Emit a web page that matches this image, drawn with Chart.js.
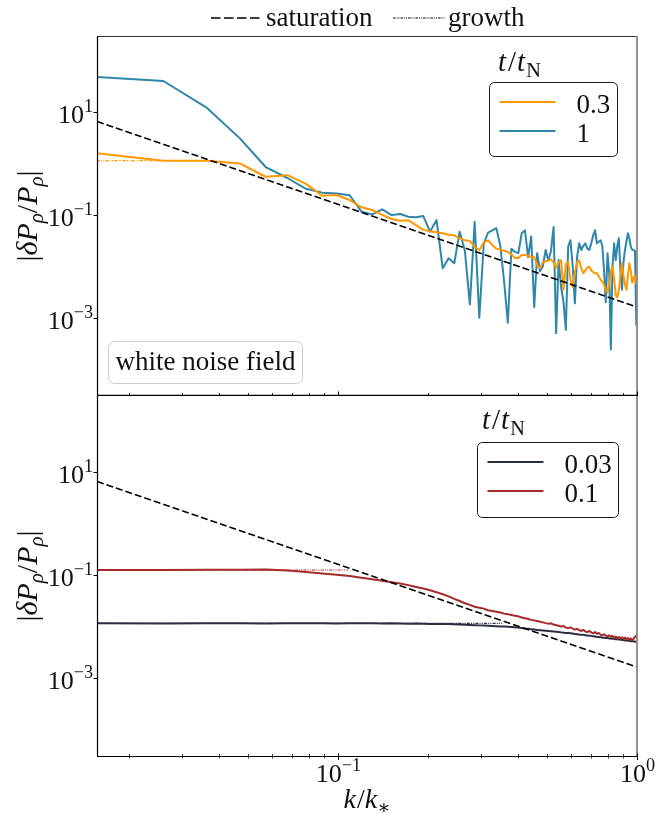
<!DOCTYPE html>
<html>
<head>
<meta charset="utf-8">
<script src="https://cdn.jsdelivr.net/npm/chart.js@4.4.1/dist/chart.umd.min.js"></script>
<style>
  body { margin: 0; background: #fff; }
  #wrap { position: relative; width: 655px; height: 814px; }
  canvas { position: absolute; left: 0; }
</style>
</head>
<body>
<div id="wrap">
  <canvas id="topChart" width="655" height="396" style="top:0"></canvas>
  <canvas id="bottomChart" width="655" height="418" style="top:396px"></canvas>
</div>
<script>
// wavenumber grid, k/k* = (n + 0.5)/96
const kGrid = Array.from({ length: 95 }, (_, i) => (i + 1.5) / 96);

// top panel: white noise field
const whiteNoise03 = [1.57, 1.13, 1.13, 1.0, 0.55, 0.59, 0.40, 0.235, 0.243, 0.194,
  0.14, 0.124, 0.1, 0.083, 0.077, 0.078, 0.063, 0.051, 0.048, 0.046,
  0.044, 0.041, 0.040, 0.035, 0.032, 0.031, 0.0237, 0.0207, 0.029, 0.032,
  0.026, 0.022, 0.021, 0.020, 0.019, 0.017, 0.0145, 0.0145, 0.0165, 0.0165,
  0.016, 0.015, 0.015, 0.0105, 0.0092, 0.012, 0.0125, 0.013, 0.0135, 0.012,
  0.0092, 0.012, 0.013, 0.0035, 0.011, 0.012, 0.0055, 0.004, 0.0077, 0.012,
  0.013, 0.0092, 0.0073, 0.0083, 0.0095, 0.0098, 0.0083, 0.0077, 0.0073, 0.0073,
  0.0064, 0.0055, 0.005, 0.0044, 0.0035, 0.0031, 0.0044, 0.0077, 0.01, 0.0055,
  0.0027, 0.0025, 0.0035, 0.0066, 0.0114, 0.0066, 0.0044, 0.0035, 0.0066, 0.0114,
  0.0083, 0.0048, 0.006, 0.0066, 0.0044];
const whiteNoise1 = [48, 40, 12, 3.1, 0.85, 0.52, 0.32, 0.27, 0.26, 0.24,
  0.115, 0.102, 0.128, 0.099, 0.104, 0.092, 0.09, 0.095, 0.047, 0.079,
  0.0091, 0.0143, 0.0114, 0.047, 0.02, 0.0018, 0.073, 0.001, 0.028, 0.045,
  0.05, 0.055, 0.025, 0.005, 0.0008, 0.022, 0.019, 0.018, 0.044, 0.05,
  0.015, 0.038, 0.0016, 0.018, 0.008, 0.01, 0.0207, 0.013, 0.02, 0.058,
  0.0005, 0.0132, 0.004, 0.002, 0.00058, 0.024, 0.032, 0.01, 0.0019, 0.015,
  0.028, 0.0207, 0.025, 0.028, 0.022, 0.0207, 0.028, 0.04, 0.05, 0.028,
  0.03, 0.032, 0.025, 0.008, 0.002, 0.0179, 0.0073, 0.00024, 0.01, 0.028,
  0.0132, 0.025, 0.035, 0.008, 0.0035, 0.012, 0.0207, 0.03, 0.0437, 0.035,
  0.024, 0.021, 0.0207, 0.02, 0.0007];

// bottom panel
const field003 = [0.0114, 0.0113, 0.0115, 0.0114, 0.0113, 0.0114, 0.0115, 0.0114, 0.0113, 0.0114,
  0.0115, 0.0114, 0.0113, 0.0114, 0.0113, 0.0112, 0.0113, 0.0112, 0.0111, 0.0111,
  0.011, 0.011, 0.0109, 0.0108, 0.0107, 0.0106, 0.0105, 0.0104, 0.0103, 0.0102,
  0.0101, 0.01, 0.0099, 0.0099, 0.0098, 0.0097, 0.0096, 0.0094, 0.0092, 0.009,
  0.0089, 0.0087, 0.0086, 0.0085, 0.0084, 0.0083, 0.0082, 0.0081, 0.008, 0.0079,
  0.0078, 0.0077, 0.0076, 0.0075, 0.0074, 0.0074, 0.0073, 0.0072, 0.0071, 0.007,
  0.0069, 0.0068, 0.0068, 0.0067, 0.0066, 0.0065, 0.0065, 0.0064, 0.0063, 0.0062,
  0.0062, 0.0061, 0.006, 0.006, 0.0059, 0.0059, 0.0058, 0.0058, 0.0057, 0.0057,
  0.0056, 0.0056, 0.0055, 0.0055, 0.0054, 0.0054, 0.0053, 0.0053, 0.0052, 0.0052,
  0.0051, 0.0051, 0.0051, 0.005, 0.005];
const field01 = [0.124, 0.124, 0.125, 0.126, 0.127, 0.121, 0.113, 0.106, 0.1, 0.095,
  0.088, 0.082, 0.077, 0.072, 0.068, 0.063, 0.058, 0.054, 0.05, 0.046,
  0.042, 0.038, 0.034, 0.031, 0.028, 0.026, 0.024, 0.023, 0.022, 0.0205,
  0.0198, 0.0192, 0.0185, 0.0176, 0.0172, 0.0166, 0.016, 0.0156, 0.0148, 0.0143,
  0.0138, 0.0133, 0.013, 0.0126, 0.0122, 0.0119, 0.0115, 0.0112, 0.0114, 0.0108,
  0.0105, 0.0102, 0.0099, 0.0101, 0.0094, 0.0092, 0.0095, 0.009, 0.0086, 0.0089,
  0.0084, 0.0081, 0.0085, 0.0079, 0.0077, 0.0081, 0.0076, 0.0073, 0.0077, 0.0071,
  0.0074, 0.0069, 0.0066, 0.007, 0.0066, 0.0063, 0.0067, 0.0062, 0.0065, 0.006,
  0.0063, 0.0059, 0.0062, 0.0058, 0.0061, 0.0057, 0.006, 0.0056, 0.0059, 0.0055,
  0.0058, 0.0054, 0.0057, 0.0062, 0.0066];

// saturation line (two ends) and growth lines
const satK = [1 / 64, 1];
const satVals = [6.55, 0.0016];
const growth03K = [1 / 64, 0.0254];
const growth03Vals = [1.13, 1.13];
const growth01K = [1 / 64, 0.108];
const growth01Vals = [0.124, 0.124];
const growth003K = [1 / 64, 0.354];
const growth003Vals = [0.0114, 0.0114];

// axes
const K_MIN = 1 / 64, K_MAX = 1;
const Y_MIN = 3e-5, Y_MAX = 300;
const xMajorTicks = [0.1, 1];
const xMinorTicks = [0.02, 0.03, 0.04, 0.05, 0.06, 0.07, 0.08, 0.09, 0.2, 0.3, 0.4, 0.5, 0.6, 0.7, 0.8, 0.9];
const yMajorTicks = [10, 0.1, 0.001];

const ORANGE = '#ff9800', BLUE = '#2e86ab', NAVY = '#2b2d42', RED = '#a52a2a';
const SERIF = '"Liberation Serif", "DejaVu Serif", serif';
const TXT = '#111';
const DASH = [7, 3];
const DASHDOTDOT = [3, 1.2, 1, 1.2, 1, 1.2];

const pts = (ks, vs) => vs.map((v, i) => ({ x: ks[i], y: v }));
const font = (size, italic) => (italic ? 'italic ' : '') + size + 'px ' + SERIF;

function seg(ctx, x1, y1, x2, y2, color, w, dash) {
  ctx.beginPath();
  ctx.strokeStyle = color;
  ctx.lineWidth = w;
  ctx.setLineDash(dash || []);
  ctx.moveTo(x1, y1);
  ctx.lineTo(x2, y2);
  ctx.stroke();
  ctx.setLineDash([]);
}

// small math strings: parts [{t, it, sub, sup}]
function drawParts(ctx, parts, x, y, size, align) {
  const items = parts.map(p => {
    const sz = (p.sub || p.sup) ? size * 0.7 : size;
    ctx.font = font(sz, p.it);
    return Object.assign({}, p, { sz, w: ctx.measureText(p.t).width + (p.pad || 0) });
  });
  const total = items.reduce((s, it) => s + it.w, 0);
  let cx = align === 'center' ? x - total / 2 : align === 'right' ? x - total : x;
  ctx.textAlign = 'left';
  ctx.textBaseline = 'alphabetic';
  ctx.fillStyle = TXT;
  items.forEach(it => {
    ctx.font = font(it.sz, it.it);
    const dy = it.sub ? size * 0.2 : it.sup ? -size * 0.42 : 0;
    ctx.fillText(it.t, cx, y + dy);
    cx += it.w;
  });
}

function pow10(e) {
  return [{ t: '10' }, { t: e < 0 ? '\u2212' + (-e) : String(e), sup: true }];
}

const yLabel = [{ t: '|' }, { t: '\u03b4', it: true }, { t: 'P', it: true }, { t: '\u03c1', it: true, sub: true },
  { t: '/' }, { t: 'P', it: true }, { t: '\u03c1', it: true, sub: true }, { t: '|' }];
const tLabel = [{ t: 't', it: true, pad: 2 }, { t: '/', pad: 1 }, { t: 't', it: true, pad: 1 }, { t: 'N', sub: true }];
const kLabel = [{ t: 'k', it: true, pad: 1 }, { t: '/' }, { t: 'k', it: true }, { t: '\u2217', sub: true }];

function roundBox(ctx, x, y, w, h, r, stroke, fill) {
  ctx.beginPath();
  ctx.roundRect(x, y, w, h, r);
  ctx.fillStyle = fill;
  ctx.fill();
  ctx.strokeStyle = stroke;
  ctx.lineWidth = 1;
  ctx.stroke();
}

function panelLegend(ctx, lg) {
  drawParts(ctx, tLabel, lg.titleX, lg.titleY, 29, 'left');
  roundBox(ctx, lg.x, lg.y, lg.w, lg.h, 5, '#1a1a1a', 'rgba(255,255,255,0.85)');
  lg.entries.forEach((e, i) => {
    const ly = lg.y + 19.5 + i * 29;
    seg(ctx, lg.x + 10, ly, lg.x + 66, ly, e.color, 2);
    ctx.font = font(27);
    ctx.fillStyle = TXT;
    ctx.textAlign = 'left';
    ctx.textBaseline = 'alphabetic';
    ctx.fillText(e.label, lg.x + 87, ly + 10.5);
  });
}

function drawYAxis(chart) {
  const { ctx, chartArea: a, scales: { y } } = chart;
  yMajorTicks.forEach(v => {
    const py = Math.round(y.getPixelForValue(v)) + 0.5;
    seg(ctx, a.left - 3.5, py, a.left, py, '#000', 1);
    drawParts(ctx, pow10(Math.round(Math.log10(v))), a.left - 4, py + 10.5, 26, 'right');
  });
  ctx.save();
  ctx.translate(37, (a.top + a.bottom) / 2);
  ctx.rotate(-Math.PI / 2);
  drawParts(ctx, yLabel, 0, 0, 30, 'center');
  ctx.restore();
}

const topDecor = {
  id: 'topDecor',
  afterDraw(chart) {
    const { ctx, chartArea: a, scales: { x } } = chart;
    ctx.save();
    // frame
    seg(ctx, a.left, a.top + 0.5, a.right, a.top + 0.5, '#333', 1);
    seg(ctx, a.right, a.top, a.right, a.bottom, '#888', 1.8);
    seg(ctx, a.left + 0.5, a.top, a.left + 0.5, a.bottom, '#000', 1.2);
    seg(ctx, a.left, a.bottom - 0.6, a.right, a.bottom - 0.6, '#000', 1.2);
    xMinorTicks.forEach(v => {
      const px = Math.round(x.getPixelForValue(v)) + 0.5;
      seg(ctx, px, a.bottom - 3, px, a.bottom, '#000', 0.8);
    });
    xMajorTicks.forEach(v => {
      const px = Math.round(x.getPixelForValue(v)) + 0.5;
      seg(ctx, px, a.bottom - 4.5, px, a.bottom, '#000', 1);
    });
    drawYAxis(chart);

    // figure legend
    seg(ctx, 211, 18, 262, 18, '#000', 1.7, [9.5, 3.5]);
    seg(ctx, 393, 18, 445, 18, '#000', 1.2, [2.5, 1, 1, 1, 1, 1]);
    ctx.font = font(27);
    ctx.fillStyle = TXT;
    ctx.textAlign = 'left';
    ctx.textBaseline = 'alphabetic';
    ctx.fillText('saturation', 266, 26);
    ctx.fillText('growth', 448, 26);

    panelLegend(ctx, {
      x: 489.5, y: 82.5, w: 128, h: 74, titleX: 498, titleY: 71,
      entries: [{ color: ORANGE, label: '0.3' }, { color: BLUE, label: '1' }]
    });

    // annotation box
    roundBox(ctx, 108.5, 341.5, 194, 42, 6, '#cccccc', 'rgba(255,255,255,0.8)');
    ctx.font = font(27);
    ctx.fillStyle = TXT;
    ctx.textAlign = 'center';
    ctx.fillText('white noise field', 205.5, 369.5);
    ctx.restore();
  }
};

const bottomDecor = {
  id: 'bottomDecor',
  afterDraw(chart) {
    const { ctx, chartArea: a, scales: { x } } = chart;
    ctx.save();
    seg(ctx, a.right, a.top, a.right, a.bottom, '#888', 1.8);
    seg(ctx, a.left + 0.5, a.top, a.left + 0.5, a.bottom, '#000', 1.2);
    seg(ctx, a.left, a.bottom + 0.5, a.right, a.bottom + 0.5, '#000', 1.2);
    xMinorTicks.forEach(v => {
      const px = Math.round(x.getPixelForValue(v)) + 0.5;
      seg(ctx, px, a.bottom - 2, px, a.bottom + 2.5, '#000', 0.8);
    });
    xMajorTicks.forEach(v => {
      const px = Math.round(x.getPixelForValue(v)) + 0.5;
      seg(ctx, px, a.bottom - 2.5, px, a.bottom + 4, '#000', 1);
      drawParts(ctx, pow10(Math.round(Math.log10(v))), px, a.bottom + 26, 26, 'center');
    });
    drawYAxis(chart);
    drawParts(ctx, kLabel, (a.left + a.right) / 2, a.bottom + 52, 28, 'center');

    panelLegend(ctx, {
      x: 477.5, y: 46.5, w: 141, h: 75, titleX: 482, titleY: 33,
      entries: [{ color: NAVY, label: '0.03' }, { color: RED, label: '0.1' }]
    });
    ctx.restore();
  }
};

function baseOptions(padTop, padBottom) {
  return {
    responsive: false,
    animation: false,
    events: [],
    layout: { padding: { left: 97, right: 18, top: padTop, bottom: padBottom } },
    plugins: { legend: { display: false }, tooltip: { enabled: false } },
    elements: { point: { radius: 0 }, line: { tension: 0, borderJoinStyle: 'round' } },
    scales: {
      x: { type: 'logarithmic', min: K_MIN, max: K_MAX, display: false },
      y: { type: 'logarithmic', min: Y_MIN, max: Y_MAX, display: false }
    }
  };
}

new Chart(document.getElementById('topChart'), {
  type: 'line',
  data: {
    datasets: [
      { data: pts(satK, satVals), borderColor: '#000', borderWidth: 1.6, borderDash: DASH, order: 0 },
      { data: pts(kGrid, whiteNoise03), borderColor: ORANGE, borderWidth: 2, order: 1 },
      { data: pts(kGrid, whiteNoise1), borderColor: BLUE, borderWidth: 2, order: 2 },
      { data: pts(growth03K, growth03Vals), borderColor: ORANGE, borderWidth: 1.1, borderDash: DASHDOTDOT, order: 3 }
    ]
  },
  options: baseOptions(36, 0),
  plugins: [topDecor]
});

new Chart(document.getElementById('bottomChart'), {
  type: 'line',
  data: {
    datasets: [
      { data: pts(satK, satVals), borderColor: '#000', borderWidth: 1.6, borderDash: DASH, order: 0 },
      { data: pts(kGrid, field01), borderColor: RED, borderWidth: 2, order: 1 },
      { data: pts(kGrid, field003), borderColor: NAVY, borderWidth: 2, order: 2 },
      { data: pts(growth01K, growth01Vals), borderColor: RED, borderWidth: 1.1, borderDash: DASHDOTDOT, order: 3 },
      { data: pts(growth003K, growth003Vals), borderColor: NAVY, borderWidth: 1.1, borderDash: DASHDOTDOT, order: 4 }
    ]
  },
  options: baseOptions(0, 58),
  plugins: [bottomDecor]
});
</script>
</body>
</html>
